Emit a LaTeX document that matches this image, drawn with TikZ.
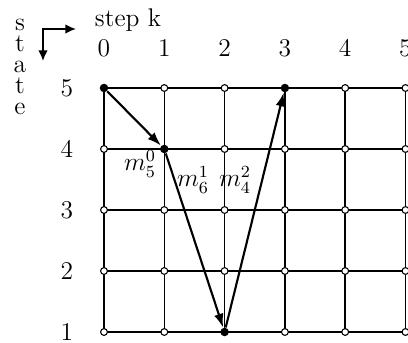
\documentclass[tikz,border=0pt]{standalone}
\usetikzlibrary{arrows.meta}
\begin{document}
\begin{tikzpicture}[x=0.016529cm,y=-0.016529cm,
  lab/.style={font=\large,inner sep=0pt},
  gridline/.style={line width=0.7pt},
  mpath/.style={line width=1pt,-{Latex[length=6.5pt,width=4.5pt]}},
  symarrow/.style={line width=0.8pt,{Latex[length=5pt,width=4.5pt]}-{Latex[length=5pt,width=4.5pt]}},
  opendot/.style={circle,draw,fill=white,line width=0.5pt,minimum size=3.2pt,inner sep=0pt},
  fulldot/.style={circle,fill=black,minimum size=4pt,inner sep=0pt}]
\useasboundingbox (0,0) rectangle (408,343);
% grid coordinates
\foreach \k in {0,...,5}{
  \foreach \s in {1,...,5}{
    \coordinate (c-\k-\s) at ({104+60.3*\k},{332-61*(\s-1)});
  }
}
% grid lines
\foreach \k in {0,...,5}{\draw[gridline] (c-\k-1) -- (c-\k-5);}
\foreach \s in {1,...,5}{\draw[gridline] (c-0-\s) -- (c-5-\s);}
% open dots
\foreach \k/\s in {0/1,0/2,0/3,0/4,1/1,1/2,1/3,1/5,2/2,2/3,2/4,2/5,3/1,3/2,3/3,3/4,4/1,4/2,4/3,4/4,4/5,5/1,5/2,5/3,5/4,5/5}{
  \node[opendot] (d-\k-\s) at (c-\k-\s) {};
}
% filled dots
\node[fulldot] (d-0-5) at (c-0-5) {};
\node[fulldot] (d-1-4) at (c-1-4) {};
\node[fulldot] (d-2-1) at (c-2-1) {};
\node[fulldot] (d-3-5) at (c-3-5) {};
% path
\draw[mpath] (d-0-5) -- (d-1-4);
\draw[mpath] (d-1-4) -- (d-2-1);
\draw[mpath] (d-2-1) -- (d-3-5);
% labels on the path
\node[lab] (m0) at (140,164) {$m_5^0$};
\node[lab] (m1) at (193,180) {$m_6^1$};
\node[lab] (m2) at (235,180) {$m_4^2$};
% step numbers
\foreach \k in {0,...,5}{
  \node[lab] (k\k) at ({104+60.3*\k},48) {\k};
}
% state numbers
\foreach \s in {1,...,5}{
  \node[lab] (s\s) at (67,{332-61*(\s-1)}) {\s};
}
% step k
\node[lab] (stepk) at (128,20) {step k};
% state vertical
\node[lab,anchor=base] (l1) at (20,31) {s};
\node[lab,anchor=base] (l2) at (20,52) {t};
\node[lab,anchor=base] (l3) at (20,73) {a};
\node[lab,anchor=base] (l4) at (20,94) {t};
\node[lab,anchor=base] (l5) at (20,115) {e};
% direction arrows
\coordinate (ar) at (76,29);
\coordinate (ac) at (43,29);
\coordinate (ad) at (43,61);
\draw[symarrow] (ar) -- (ac) -- (ad);
\end{tikzpicture}
\end{document}
